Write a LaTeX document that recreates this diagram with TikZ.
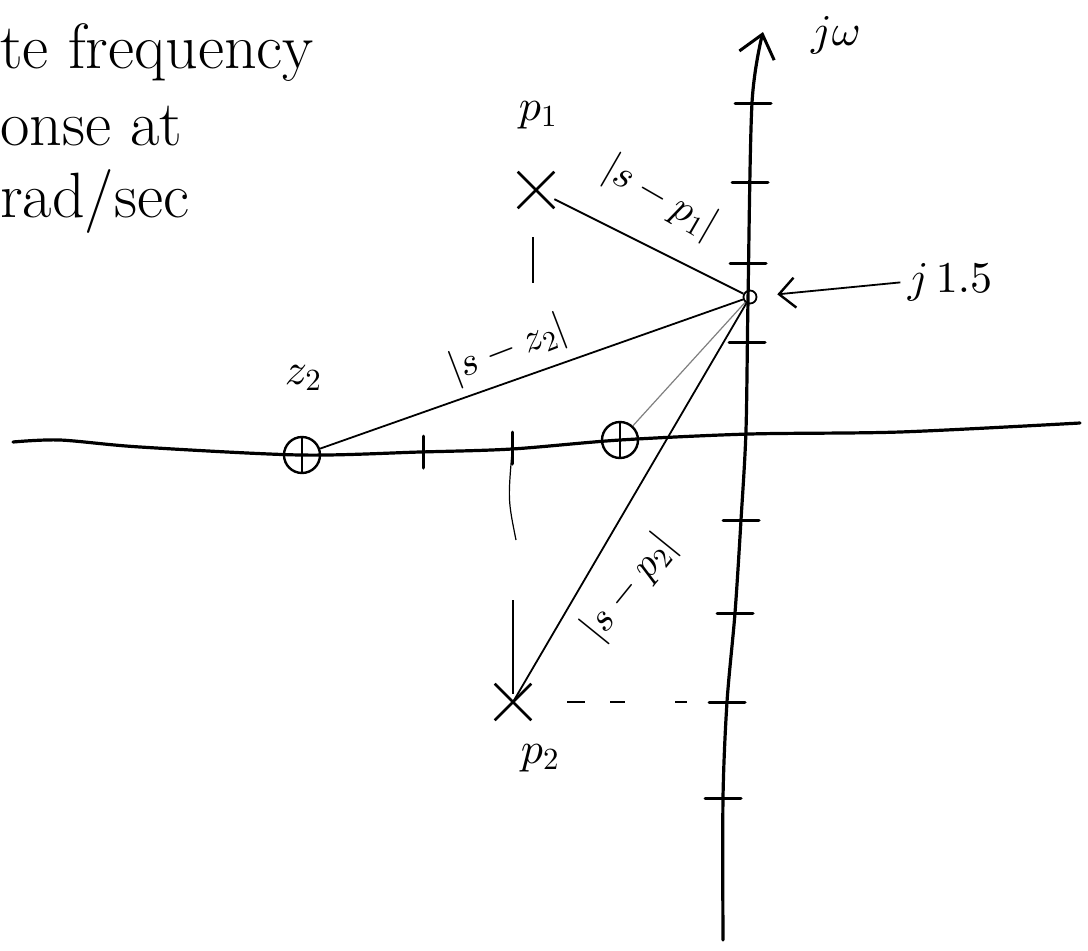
\documentclass[tikz,border=0pt]{standalone}
\usepackage{amsmath}
\usepackage{amssymb}
\usepackage{tikz}
\usetikzlibrary{arrows.meta,positioning,calc,shapes.misc}
\DeclareFontShape{OML}{cmm}{m}{it}{<->cmmi10}{}
\DeclareFontShape{OMS}{cmsy}{m}{n}{<->cmsy10}{}
\DeclareFontShape{OT1}{cmr}{m}{n}{<->cmr10}{}

\begin{document}
\begin{tikzpicture}[x=1pt,y=-1pt,
    axis/.style={line width=3.2pt, line cap=round},
    tick/.style={line width=3pt, line cap=round},
    ray/.style={line width=1.8pt},
    guide/.style={line width=1.2pt},
    pole/.style={cross out, draw, line width=2.6pt, minimum size=34pt, inner sep=0pt},
    zero/.style={circle, draw, line width=2.4pt, minimum size=36pt, inner sep=0pt},
    lbl/.style={font=\fontsize{40}{46}\selectfont, inner sep=1pt},
    big/.style={font=\fontsize{44}{50}\selectfont},
    note/.style={font=\fontsize{64}{70}\selectfont, anchor=base west, inner sep=0pt}]
  \useasboundingbox (0,0) rectangle (1088,951);

  % text at top left
  \node[note] (l1) at (0,68) {te frequency};
  \node[note] (l2) at (0,145) {onse at};
  \node[note] (l3) at (0,217) {rad/sec};

  % axes
  \draw[axis] plot[smooth] coordinates {(13,442) (60,440) (140,447) (300,455)
      (420,452) (512,449) (620,440) (750,434) (900,432) (1080,423)};
  \draw[axis, -{Straight Barb[length=22pt, width=36pt, line width=3pt]}]
      plot[smooth] coordinates {(723,940) (723,798) (727,702) (735,613)
      (741,520) (746,430) (748,300) (752,103) (763,32)};
  \foreach \x/\y in {753/103, 750/182, 748/263, 747/342,
                     741/520, 735/613, 727/702, 723/798}{
      \draw[tick] (\x-18,\y) -- (\x+18,\y);
  }
  \foreach \x/\y in {423/452, 512/448}{
      \draw[tick] (\x,\y-16) -- (\x,\y+16);
  }

  % poles and zeros
  \node[pole] (p1) at (536,190) {};
  \node[pole] (p2) at (513,702) {};
  \node[zero] (z2) at (302,455) {};
  \node[zero] (z1) at (620,440) {};
  \draw[line width=2.4pt] (z2.north) -- (z2.south);
  \draw[line width=2pt] (z1.north) -- (z1.south);
  \node[circle, draw, line width=1.8pt, minimum size=13pt, inner sep=0pt] (s) at (750,297) {};

  % labels
  \node[big] (p1lbl) at (538,115) {$p_1$};
  \node[big] (p2lbl) at (540,758) {$p_2$};
  \node[big] (z2lbl) at (303,378) {$z_2$};
  \node[big] (jw) at (836,35) {$j\omega$};
  \node[big] (jval) at (950,282) {$j\,1.5$};

  % vectors to the point s
  \draw[ray] (s) -- (p1);
  \draw[ray] (s) -- (z2);
  \draw[guide, gray] (s) -- (z1);
  \draw[ray] (s) -- (p2.center);
  \draw[ray, shorten <=4pt, shorten >=20pt,
        -{Straight Barb[length=16pt, width=30pt, line width=2.4pt]}] (jval.west) -- (s);

  \node[lbl, rotate=-30] (dp1) at (660,198) {$|s-p_1|$};
  \node[lbl, rotate=21] (dz2) at (508,350) {$|s-z_2|$};
  \node[lbl, rotate=51] (dp2) at (630,588) {$|s-p_2|$};

  % guide lines
  \draw[guide] ($(p1)+(-3,47)$) -- ($(p1)+(-3,93)$);
  \draw[guide] (512,452) .. controls (508,500) .. (516,540);
  \draw[guide] (513,600) -- ($(p2)+(0,-8)$);
  \draw[guide, dash pattern=on 18pt off 25pt on 15pt off 50pt on 12pt off 100pt]
      ($(p2)+(54,0)$) -- (727,702);
\end{tikzpicture}
\end{document}
